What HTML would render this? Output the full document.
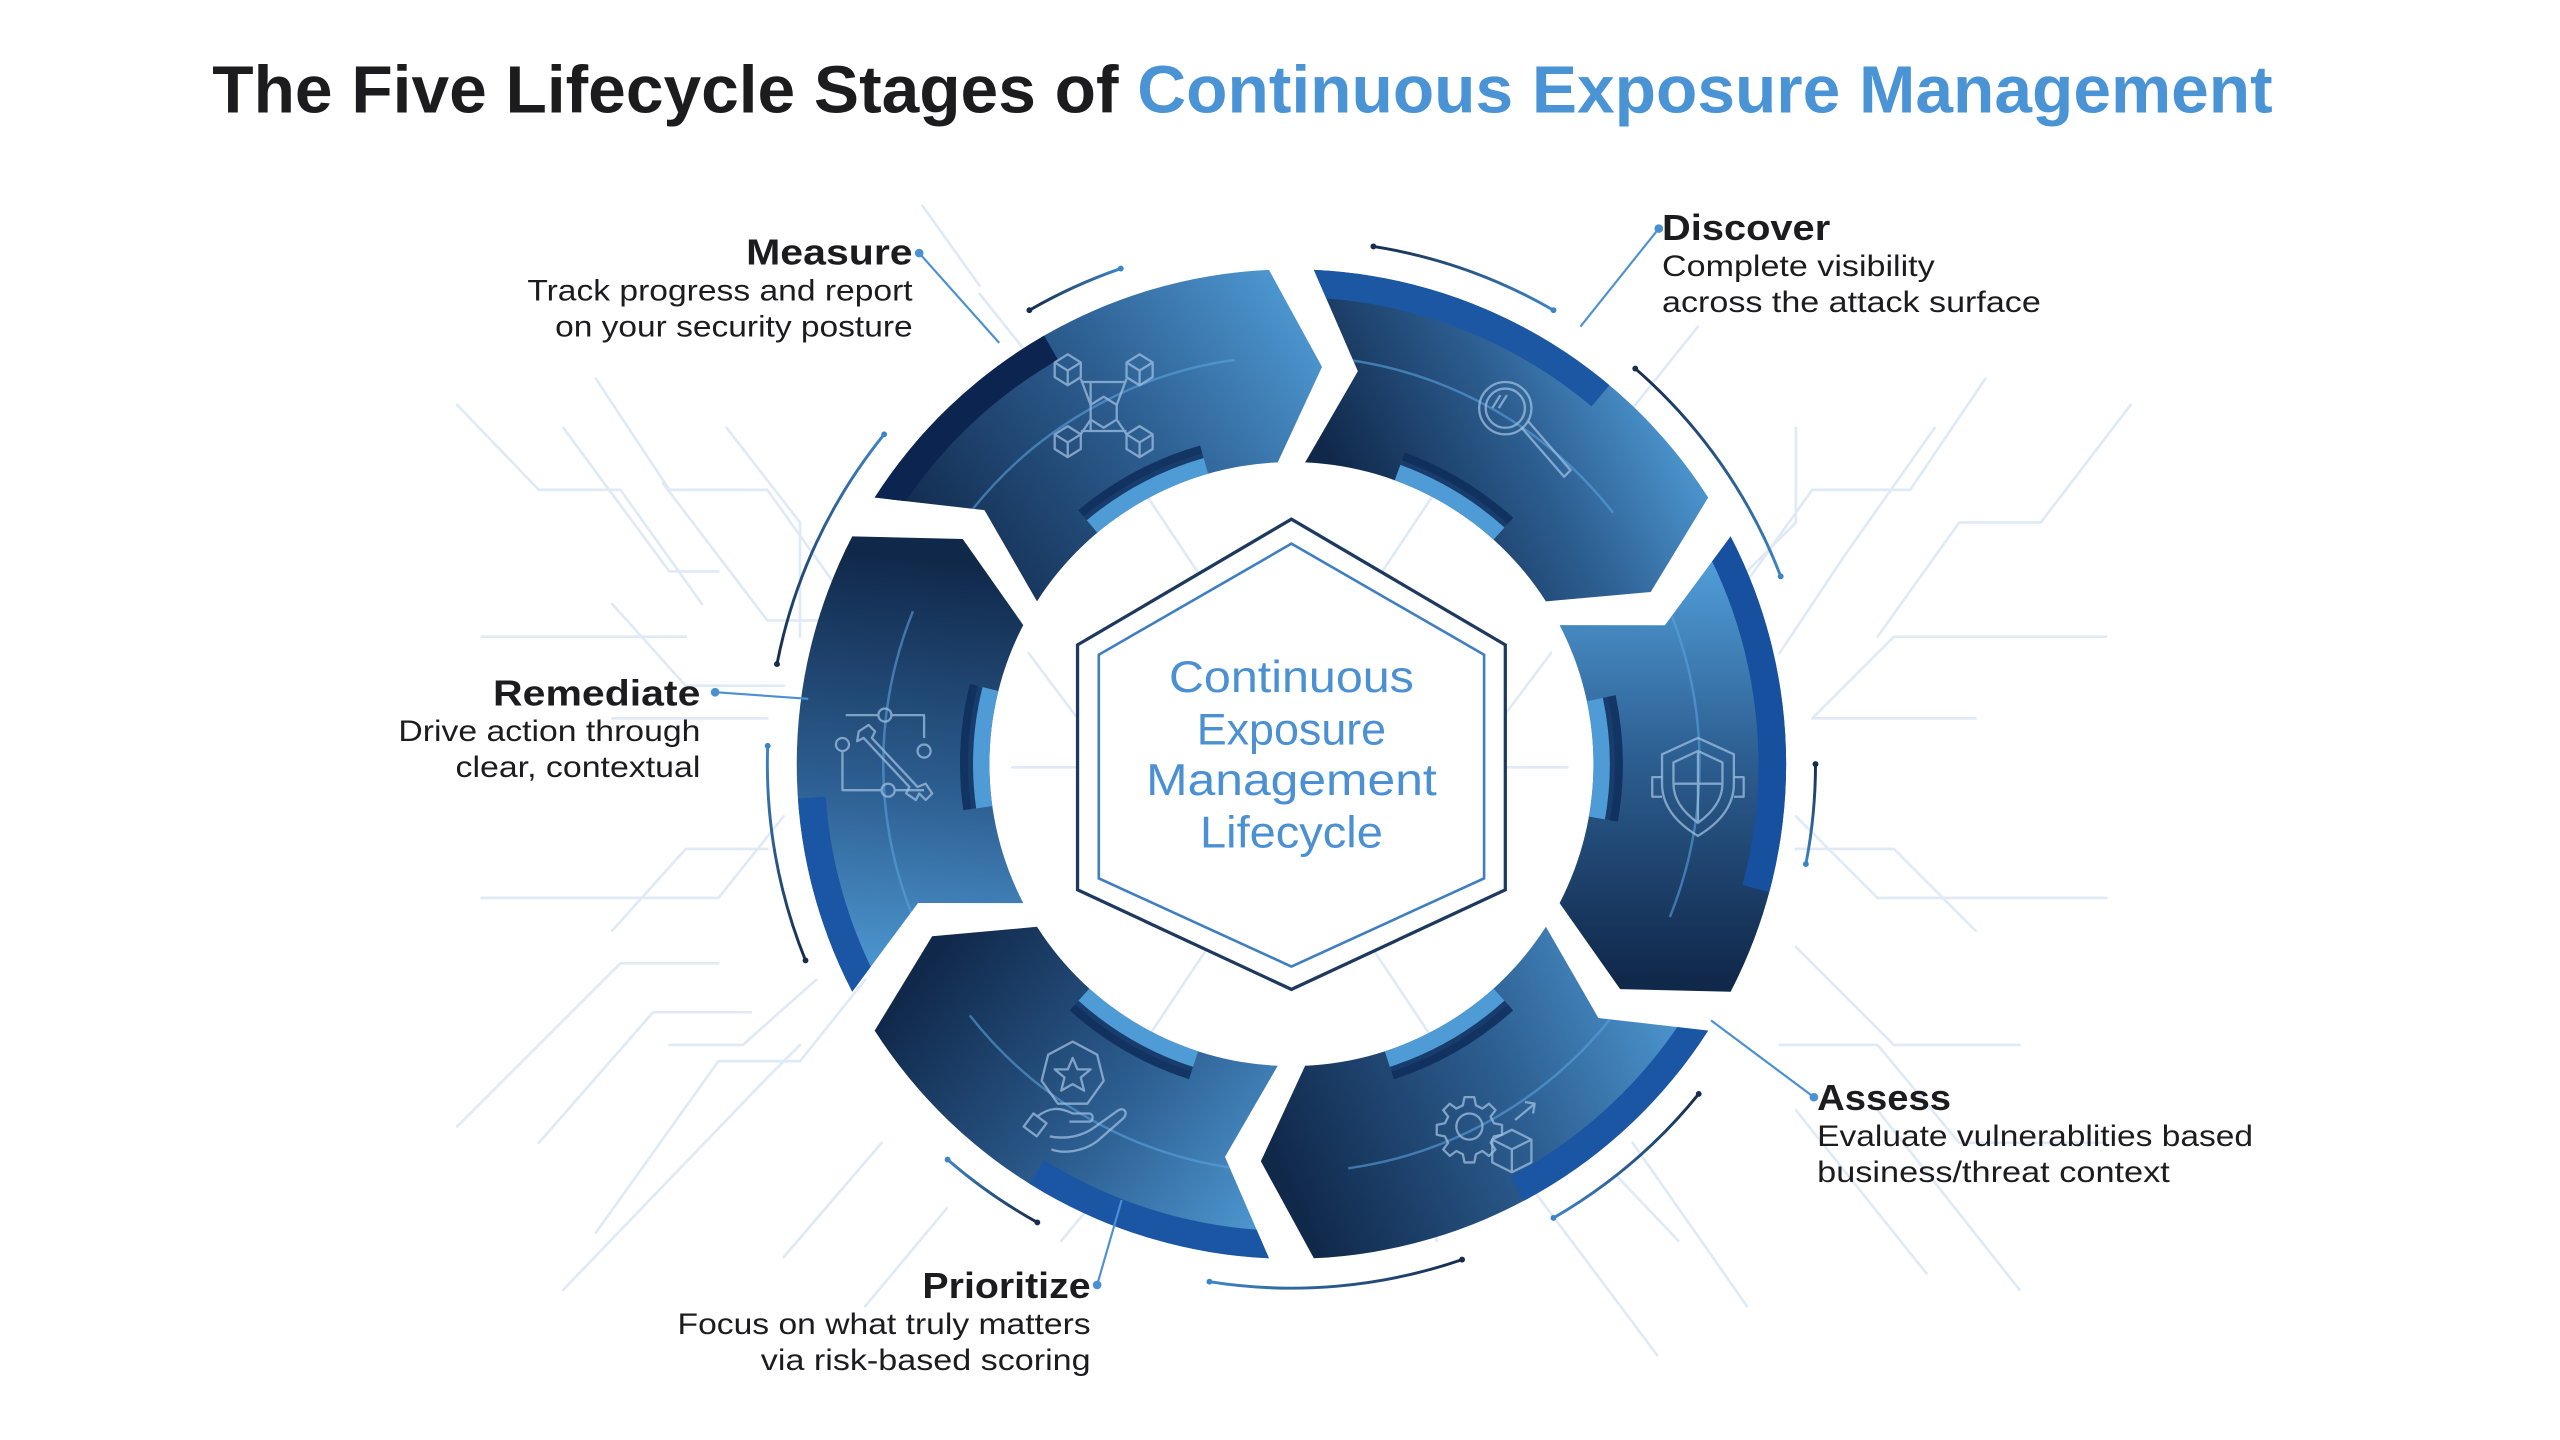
<!DOCTYPE html>
<html><head><meta charset="utf-8"><style>
html,body{margin:0;padding:0;background:#fff;}
svg{display:block;}
text{font-family:"Liberation Sans",sans-serif;}
</style></head><body>
<svg id="s" width="2560" height="1440" viewBox="0 0 1568 882" xmlns="http://www.w3.org/2000/svg">
<defs></defs>
<g id="bg" stroke="#dfeaf6" stroke-width="1.6" fill="none" stroke-linecap="round">
<polyline points="280,248 330,300 380,300 430,370"/>
<polyline points="365,232 410,300 470,300 520,370"/>
<polyline points="345,262 410,350 440,350"/>
<polyline points="445,262 490,320 490,390"/>
<polyline points="565,126 600,175"/>
<polyline points="600,180 640,230"/>
<polyline points="406,296 470,380 520,380 560,430"/>
<polyline points="375,370 420,420 480,420"/>
<polyline points="295,390 420,390"/>
<polyline points="375,440 470,440"/>
<polyline points="295,550 440,550 480,500"/>
<polyline points="375,570 420,520 470,520"/>
<polyline points="280,690 380,590 440,590"/>
<polyline points="330,700 400,620 460,620"/>
<polyline points="365,755 440,650 490,650 530,600"/>
<polyline points="345,790 470,660 490,640"/>
<polyline points="410,640 455,640 500,600"/>
<polyline points="480,770 540,700"/>
<polyline points="530,800 580,740"/>
<polyline points="1216,232 1170,300 1110,300 1060,370"/>
<polyline points="1305,248 1250,320 1200,320 1150,390"/>
<polyline points="1185,262 1130,340 1090,400"/>
<polyline points="1100,262 1100,320 1060,360"/>
<polyline points="1040,200 1000,250"/>
<polyline points="1290,390 1160,390 1110,440"/>
<polyline points="1210,440 1110,440"/>
<polyline points="1290,550 1150,550 1100,500"/>
<polyline points="1210,570 1160,520 1100,520"/>
<polyline points="1237,640 1160,640 1100,580"/>
<polyline points="1290,700 1200,700 1150,640 1090,640"/>
<polyline points="1237,790 1150,680"/>
<polyline points="1180,780 1100,680"/>
<polyline points="1015,830 940,730"/>
<polyline points="1070,800 1000,700"/>
<polyline points="1028,760 990,720"/>
<polyline points="650,760 700,700 700,660"/>
<polyline points="880,760 880,700"/>
<polyline points="700,300 740,360 740,420 700,470 660,470"/>
<polyline points="880,300 840,360 840,420 880,470 920,470"/>
<polyline points="700,640 740,580 790,580"/>
<polyline points="880,640 840,580"/>
<polyline points="620,470 660,470"/>
<polyline points="920,470 960,470"/>
<polyline points="630,400 660,440"/>
<polyline points="950,400 920,440"/>
</g>
<g id="ring"></g>
<g id="arcs" fill="none" stroke-linecap="round"></g>
<polygon points="791,318 922,395 922,545 791,606 660,545 660,395" fill="#fff" stroke="#1d3a5e" stroke-width="2"/>
<polygon points="791,333 909,401 909,538 791,592 673,538 673,401" fill="#fff" stroke="#3f7fc1" stroke-width="1.6"/>
<g fill="#4a90d3" font-size="27" text-anchor="middle" lengthAdjust="spacingAndGlyphs">
<text x="791" y="424" textLength="150" lengthAdjust="spacingAndGlyphs">Continuous</text>
<text x="791" y="456" textLength="116" lengthAdjust="spacingAndGlyphs">Exposure</text>
<text x="791" y="487" textLength="178" lengthAdjust="spacingAndGlyphs">Management</text>
<text x="791" y="519" textLength="112" lengthAdjust="spacingAndGlyphs">Lifecycle</text>
</g>
<g stroke="#9fbfe0" stroke-opacity="0.75" stroke-width="1.4" fill="none" stroke-linejoin="round">
<g transform="translate(676,252)">
<path d="M-30,-30 l8,-5 8,5 0,9 -8,5 -8,-5z M-22,-25 l0,9 M-30,-30 l8,5 8,-5"/>
<path d="M14,-30 l8,-5 8,5 0,9 -8,5 -8,-5z M22,-25 l0,9 M14,-30 l8,5 8,-5"/>
<path d="M-30,14 l8,-5 8,5 0,9 -8,5 -8,-5z M-22,19 l0,9 M-30,14 l8,5 8,-5"/>
<path d="M14,14 l8,-5 8,5 0,9 -8,5 -8,-5z M22,19 l0,9 M14,14 l8,5 8,-5"/>
<path d="M-8,-4 l8,-5 8,5 0,9 -8,5 -8,-5z M-14,-20 L-8,-4 M14,-20 L8,-4 M-14,14 L-8,5 M14,14 L8,5 M-14,-18 L14,-18 M-14,12 L14,12 M-8,-18 L-8,12"/>
</g>
<g transform="translate(922,250)">
<circle cx="0" cy="0" r="16"/><circle cx="0" cy="0" r="12"/>
<path d="M10,12 L36,42 L40,38 L14,8 M-3,-8 L-8,0 M1,-8 L-4,0"/>
</g>
<g transform="translate(1040,480)">
<path d="M0,-28 L22,-18 L22,0 C22,16 10,26 0,32 C-10,26 -22,16 -22,0 L-22,-18Z"/>
<path d="M0,-20 L15,-13 L15,0 C15,11 7,19 0,24 C-7,19 -15,11 -15,0 L-15,-13Z M0,-20 L0,24 M-15,0 L15,0"/>
<path d="M-22,-4 h-6 v12 h6 M22,-4 h6 v12 h-6"/>
</g>
<g transform="translate(900,690)">
<circle cx="0" cy="0" r="8"/>
<path d="M-3,-18 h6 l1,5 4,2 4,-3 4,4 -3,4 2,4 5,1 v6 l-5,1 -2,4 3,4 -4,4 -4,-3 -4,2 -1,5 h-6 l-1,-5 -4,-2 -4,3 -4,-4 3,-4 -2,-4 -5,-1 v-6 l5,-1 2,-4 -3,-4 4,-4 4,3 4,-2z"/>
<path d="M14,8 l12,-6 12,6 0,14 -12,6 -12,-6z M14,8 l12,6 12,-6 M26,14 v14 M28,-4 l12,-10 M34,-15 l6,1 -1,6"/>
</g>
<g transform="translate(657,668)">
<path d="M0,-30 L15,-22 L19,-6 L9,8 L-9,8 L-19,-6 L-15,-22Z"/>
<path d="M0,-20 l3,7 8,0 -6,5 2,8 -7,-4 -7,4 2,-8 -6,-5 8,0z"/>
<path d="M-30,22 l6,-8 8,6 -6,8z M-22,16 c8,-6 14,-6 22,-2 l10,0 c3,0 3,5 0,5 l-12,0 M-14,28 c10,2 20,0 28,-6 l14,-10 c4,-2 6,2 3,5 l-16,14 c-8,6 -20,8 -28,5"/>
</g>
<g transform="translate(542,462)">
<path d="M-24,-24 h20 M-4,-24 a4,4 0 1,0 8,0 a4,4 0 1,0 -8,0 M4,-24 h20 v14 M24,-6 a4,4 0 1,0 0,8 a4,4 0 1,0 0,-8 M-26,-2 a4,4 0 1,0 0,-8 a4,4 0 1,0 0,8 M-26,-2 v24 h24 M-2,22 a4,4 0 1,0 8,0 a4,4 0 1,0 -8,0 M6,22 h18"/>
<path d="M-16,-14 l6,-4 4,4 -2,4 28,30 5,-2 4,6 -4,4 -4,-4 -2,4 -6,-4 2,-4 -28,-30 -4,2z"/>
</g>
</g>
<g stroke="#4a90d3" stroke-width="1.3" fill="#4a90d3">
<line x1="563" y1="155" x2="612" y2="210"/><circle cx="563" cy="155" r="2"/>
<line x1="1016" y1="140" x2="968" y2="200"/><circle cx="1016" cy="140" r="2"/>
<line x1="438" y1="424" x2="495" y2="428"/><circle cx="438" cy="424" r="2"/>
<line x1="1111" y1="672" x2="1048" y2="625"/><circle cx="1111" cy="672" r="2"/>
<line x1="672" y1="787" x2="687" y2="735"/><circle cx="672" cy="787" r="2"/>
</g>
<text x="130" y="69" font-size="41" font-weight="bold" textLength="1262" lengthAdjust="spacingAndGlyphs"><tspan fill="#1c1c1e">The Five Lifecycle Stages of </tspan><tspan fill="#4a94d6">Continuous Exposure Management</tspan></text>
<g fill="#1c1c1e">
<text x="559" y="162" font-size="22" font-weight="bold" text-anchor="end" textLength="102" lengthAdjust="spacingAndGlyphs">Measure</text>
<text x="559" y="184" font-size="18" text-anchor="end" textLength="236" lengthAdjust="spacingAndGlyphs">Track progress and report</text>
<text x="559" y="206" font-size="18" text-anchor="end" textLength="219" lengthAdjust="spacingAndGlyphs">on your security posture</text>
<text x="1018" y="147" font-size="22" font-weight="bold" textLength="103" lengthAdjust="spacingAndGlyphs">Discover</text>
<text x="1018" y="169" font-size="18" textLength="167" lengthAdjust="spacingAndGlyphs">Complete visibility</text>
<text x="1018" y="191" font-size="18" textLength="232" lengthAdjust="spacingAndGlyphs">across the attack surface</text>
<text x="429" y="432" font-size="22" font-weight="bold" text-anchor="end" textLength="127" lengthAdjust="spacingAndGlyphs">Remediate</text>
<text x="429" y="454" font-size="18" text-anchor="end" textLength="185" lengthAdjust="spacingAndGlyphs">Drive action through</text>
<text x="429" y="476" font-size="18" text-anchor="end" textLength="150" lengthAdjust="spacingAndGlyphs">clear, contextual</text>
<text x="1113" y="680" font-size="22" font-weight="bold" textLength="82" lengthAdjust="spacingAndGlyphs">Assess</text>
<text x="1113" y="702" font-size="18" textLength="267" lengthAdjust="spacingAndGlyphs">Evaluate vulnerablities based</text>
<text x="1113" y="724" font-size="18" textLength="216" lengthAdjust="spacingAndGlyphs">business/threat context</text>
<text x="668" y="795" font-size="22" font-weight="bold" text-anchor="end" textLength="103" lengthAdjust="spacingAndGlyphs">Prioritize</text>
<text x="668" y="817" font-size="18" text-anchor="end" textLength="253" lengthAdjust="spacingAndGlyphs">Focus on what truly matters</text>
<text x="668" y="839" font-size="18" text-anchor="end" textLength="202" lengthAdjust="spacingAndGlyphs">via risk-based scoring</text>
</g>
</svg>
<script>
(function(){
var NS="http://www.w3.org/2000/svg",cx=791,cy=468,R=303,r=185,rm=(R+r)/2,g=2.6,d=7;
function P(t,rad){var a=t*Math.PI/180;return [cx+rad*Math.sin(a),cy-rad*Math.cos(a)];}
function f(p){return p[0].toFixed(2)+","+p[1].toFixed(2);}
var defs=document.querySelector("defs"),ring=document.getElementById("ring"),arcs=document.getElementById("arcs");
function el(n,at,par){var e=document.createElementNS(NS,n);for(var k in at)e.setAttribute(k,at[k]);par.appendChild(e);return e;}
var G=[[830,310,1010,215],[1040,600,1040,350],[790,730,1040,620],[560,600,770,765],[545,340,520,600],[560,340,795,175]];
for(var i=0;i<6;i++){
 var lg=el("linearGradient",{id:"g"+i,gradientUnits:"userSpaceOnUse",x1:G[i][0],y1:G[i][1],x2:G[i][2],y2:G[i][3]},defs);
 el("stop",{offset:"0","stop-color":"#10284a"},lg);
 el("stop",{offset:"0.55","stop-color":"#2d5f92"},lg);
 el("stop",{offset:"1","stop-color":"#4f9ad4"},lg);
 var s=60*i+g,e=60*(i+1)-g;
 var dpath="M"+f(P(s,R))+" A"+R+","+R+" 0 0 1 "+f(P(e,R))+" L"+f(P(e+d,rm))+" L"+f(P(e,r))+" A"+r+","+r+" 0 0 0 "+f(P(s,r))+" L"+f(P(s+d,rm))+"Z";
 var cp=el("clipPath",{id:"c"+i},defs);el("path",{d:dpath},cp);
 el("path",{d:dpath,fill:"url(#g"+i+")"},ring);
}
function band(t1,t2,rad,w,col,clip,op){
 var p="M"+f(P(t1,rad))+" A"+rad+","+rad+" 0 0 1 "+f(P(t2,rad));
 el("path",{d:p,fill:"none",stroke:col,"stroke-width":w,"clip-path":"url(#c"+clip+")",opacity:op||1},ring);
}
band(0,40,R-8,18,"#1b57a3",0);
band(60,105,R-8,18,"#1850a0",1);
band(118,152,R-8,18,"#1a56a4",2);
band(180,212,R-8,18,"#1a56a4",3);
band(236,266,R-8,18,"#1a56a4",4);
band(296,330,R-8,18,"#0b2450",5);
for(var j=0;j<6;j++){band(60*j+8,60*j+52,250,1.5,"#5aa2dc",j,0.6);}
var IB=[[20,42],[78,100],[138,162],[198,222],[262,284],[320,344]];
for(var k=0;k<6;k++){
 band(IB[k][0],IB[k][1],r+6,14,"#4f9bd6",k);
 band(IB[k][0],IB[k][1],r+14,8,"#0e2d5a",k,0.85);
}
var A=[[9,30],[41,69],[90,101],[129,150],[161,189],[209,221],[248,272],[281,309],[330,341]];
var Rr=321;
for(var m=0;m<A.length;m++){
 var p1=P(A[m][0],Rr),p2=P(A[m][1],Rr);
 var lg2=el("linearGradient",{id:"a"+m,gradientUnits:"userSpaceOnUse",x1:p1[0],y1:p1[1],x2:p2[0],y2:p2[1]},defs);
 el("stop",{offset:"0","stop-color":"#152c4c"},lg2);el("stop",{offset:"1","stop-color":"#3d84c6"},lg2);
 el("path",{d:"M"+f(p1)+" A"+Rr+","+Rr+" 0 0 1 "+f(p2),stroke:"url(#a"+m+")","stroke-width":1.8},arcs);
 el("circle",{cx:p1[0],cy:p1[1],r:1.8,fill:"#152c4c"},arcs);
 el("circle",{cx:p2[0],cy:p2[1],r:1.8,fill:"#3d84c6"},arcs);
}
})();
</script>
</body></html>
